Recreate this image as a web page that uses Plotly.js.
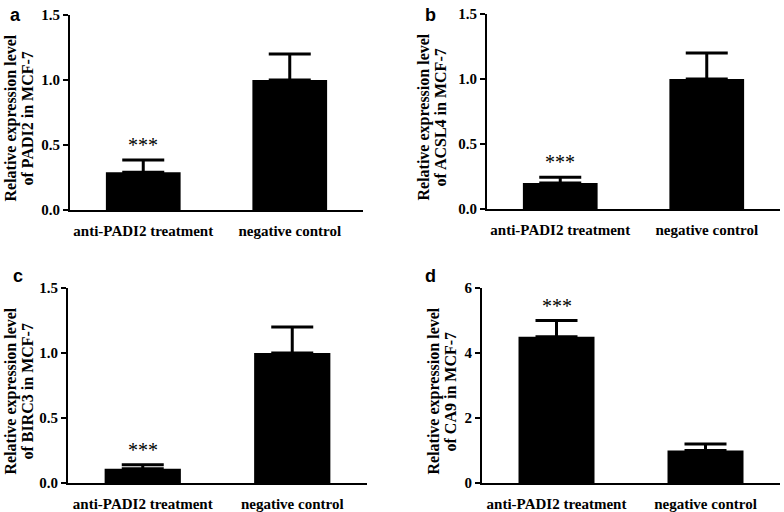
<!DOCTYPE html>
<html>
<head>
<meta charset="utf-8">
<script src="https://cdn.plot.ly/plotly-3.0.1.min.js"></script>
<style>html,body{margin:0;padding:0;background:#fff;}#chart{width:784px;height:512px;}</style>
</head>
<body>
<div id="chart"></div>
<script>
// ---- data ----
const categories = ["anti-PADI2 treatment", "negative control"];
const panelLetters = ["a", "b", "c", "d"];
const genes = ["PADI2", "ACSL4", "BIRC3", "CA9"];
const meansPADI2 = [0.29, 1.0];
const errPADI2 = [0.095, 0.2];
const meansACSL4 = [0.2, 1.0];
const errACSL4 = [0.045, 0.2];
const meansBIRC3 = [0.11, 1.0];
const errBIRC3 = [0.03, 0.2];
const meansCA9 = [4.5, 1.0];
const errCA9 = [0.5, 0.2];
const yMax = [1.5, 1.5, 1.5, 6];
const yTicks = [[0, 0.5, 1.0, 1.5], [0, 0.5, 1.0, 1.5], [0, 0.5, 1.0, 1.5], [0, 2, 4, 6]];
const yTickText = [["0.0", "0.5", "1.0", "1.5"], ["0.0", "0.5", "1.0", "1.5"], ["0.0", "0.5", "1.0", "1.5"], ["0", "2", "4", "6"]];
const significance = ["***", "***", "***", "***"];

const means = [meansPADI2, meansACSL4, meansBIRC3, meansCA9];
const errs = [errPADI2, errACSL4, errBIRC3, errCA9];

// ---- layout geometry (pixels) ----
const W = 784, H = 512;
const boxes = [
  {x0: 70, x1: 363, y0: 15, y1: 210, t1: -60, t2: -43, lx: 15, ly: 8},
  {x0: 487, x1: 780, y0: 14, y1: 209, t1: -64, t2: -47, lx: 430, ly: 8},
  {x0: 68, x1: 367, y0: 288, y1: 483, t1: -58, t2: -41, lx: 18, ly: 278},
  {x0: 482, x1: 780, y0: 288, y1: 483, t1: -49, t2: -32, lx: 430, ly: 278}
];
const serif = "Liberation Serif, Times New Roman, serif";

const data = [];
const layout = {
  width: W, height: H,
  margin: {l: 0, r: 0, t: 0, b: 0},
  paper_bgcolor: "#fff", plot_bgcolor: "#fff",
  showlegend: false,
  annotations: [],
  font: {family: serif, color: "#000"}
};

boxes.forEach((b, i) => {
  const n = i + 1;
  const xa = n === 1 ? "x" : "x" + n;
  const ya = n === 1 ? "y" : "y" + n;
  data.push({
    type: "bar",
    x: categories, y: means[i],
    xaxis: xa, yaxis: ya,
    width: 0.51,
    marker: {color: "#000", line: {width: 0}},
    error_y: {type: "data", array: errs[i], arrayminus: [0, 0], symmetric: false, color: "#000", thickness: 3, width: 21},
    hoverinfo: "skip"
  });
  const xkey = n === 1 ? "xaxis" : "xaxis" + n;
  const ykey = n === 1 ? "yaxis" : "yaxis" + n;
  layout[xkey] = {
    domain: [b.x0 / W, b.x1 / W],
    anchor: ya,
    type: "category",
    range: [-0.5, 1.5],
    showline: true, linecolor: "#000", linewidth: 2,
    ticks: "", showgrid: false, zeroline: false,
    ticklabelstandoff: 6,
    tickfont: {family: serif, size: 15, color: "#000", weight: "bold"},
    fixedrange: true
  };
  layout[ykey] = {
    domain: [1 - b.y1 / H, 1 - b.y0 / H],
    anchor: xa,
    range: [0, yMax[i]],
    tickvals: yTicks[i], ticktext: yTickText[i],
    showline: true, linecolor: "#000", linewidth: 2,
    ticks: "outside", ticklen: 5, tickwidth: 2, tickcolor: "#000",
    showgrid: false, zeroline: false,
    tickfont: {family: serif, size: 15, color: "#000", weight: "bold"},
    fixedrange: true
  };
  const yc = 1 - ((b.y0 + b.y1) / 2 + 6) / H;
  // y title (two lines)
  layout.annotations.push({
    xref: "paper", yref: "paper",
    x: (b.x0 + b.t1) / W, y: yc,
    xanchor: "center", yanchor: "middle",
    textangle: -90,
    text: "<b>Relative expression level</b>",
    showarrow: false,
    font: {family: serif, size: 16, color: "#000"}
  });
  layout.annotations.push({
    xref: "paper", yref: "paper",
    x: (b.x0 + b.t2) / W, y: yc,
    xanchor: "center", yanchor: "middle",
    textangle: -90,
    text: "<b>of " + genes[i] + " in MCF-7</b>",
    showarrow: false,
    font: {family: serif, size: 16, color: "#000"}
  });
  // panel letter
  layout.annotations.push({
    xref: "paper", yref: "paper",
    x: b.lx / W, y: Math.min(1 - (b.ly - 2) / H, 1),
    xanchor: "center", yanchor: i < 2 ? "top" : "middle",
    yshift: i < 2 ? 3 : 0,
    text: "<b>" + panelLetters[i] + "</b>",
    showarrow: false,
    font: {family: "Liberation Sans, Arial, sans-serif", size: 18, color: "#000"}
  });
  // significance stars
  layout.annotations.push({
    xref: xa, yref: ya,
    x: categories[0], y: means[i][0] + errs[i][0],
    yanchor: "bottom", yshift: 2,
    text: significance[i],
    showarrow: false,
    font: {family: serif, size: 20, color: "#000"}
  });
});

Plotly.newPlot("chart", data, layout, {displayModeBar: false, staticPlot: true});
</script>
</body>
</html>
